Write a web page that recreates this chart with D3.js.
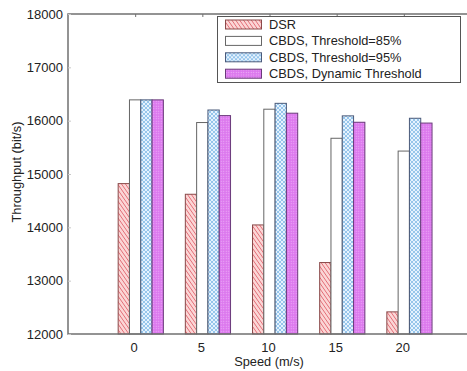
<!DOCTYPE html>
<html>
<head>
<meta charset="utf-8">
<script src="https://cdn.jsdelivr.net/npm/d3@7"></script>
<style>
  body { margin: 0; background: #fff; }
  svg { display: block; font-family: "Liberation Sans", Arial, sans-serif; }
</style>
</head>
<body>
<div id="chart"></div>
<script>
const speeds = [0, 5, 10, 15, 20];
const seriesNames = ['DSR', 'CBDS, Threshold=85%', 'CBDS, Threshold=95%', 'CBDS, Dynamic Threshold'];
const dsr = [14820, 14620, 14045, 13340, 12415];
const cbds85 = [16390, 15965, 16215, 15670, 15430];
const cbds95 = [16390, 16200, 16325, 16090, 16045];
const cbdsDyn = [16390, 16095, 16140, 15970, 15955];
const yTicks = [12000, 13000, 14000, 15000, 16000, 17000, 18000];

const series = [dsr, cbds85, cbds95, cbdsDyn];

const width = 467;
const height = 371;
const margin = { top: 14, left: 68, bottom: 37 };
const plotRight = 471;

const svg = d3.select('#chart').append('svg')
  .attr('width', width)
  .attr('height', height);

const defs = svg.append('defs');

// red diagonal hatching
const hatch = defs.append('pattern')
  .attr('id', 'hatch')
  .attr('patternUnits', 'userSpaceOnUse')
  .attr('width', 3.2)
  .attr('height', 3.2)
  .attr('patternTransform', 'rotate(-35)');
hatch.append('rect').attr('width', 3.2).attr('height', 3.2).attr('fill', '#fbd6d6');
hatch.append('line')
  .attr('x1', 0).attr('y1', 0).attr('x2', 0).attr('y2', 3.2)
  .attr('stroke', '#dd5560').attr('stroke-width', 1.3);

// blue cross-hatch
const cross = defs.append('pattern')
  .attr('id', 'cross')
  .attr('patternUnits', 'userSpaceOnUse')
  .attr('width', 4)
  .attr('height', 4);
cross.append('rect').attr('width', 4).attr('height', 4).attr('fill', '#86bde8');
[[2, 2], [0, 0], [4, 0], [0, 4], [4, 4]].forEach(([cx, cy]) => {
  cross.append('circle').attr('cx', cx).attr('cy', cy).attr('r', 1.2).attr('fill', '#e8f4ff');
});

// purple dots
const dots = defs.append('pattern')
  .attr('id', 'dots')
  .attr('patternUnits', 'userSpaceOnUse')
  .attr('width', 2.5)
  .attr('height', 2.5);
dots.append('rect').attr('width', 2.5).attr('height', 2.5).attr('fill', '#dc78ee');
dots.append('circle').attr('cx', 1.25).attr('cy', 1.25).attr('r', 0.6).attr('fill', '#efb4f7');

const fills = ['url(#hatch)', '#ffffff', 'url(#cross)', 'url(#dots)'];
const strokes = ['#8a4a4a', '#666666', '#4a5a7a', '#6a3a7a'];

const x = d3.scaleLinear().domain([-5, 25]).range([margin.left, margin.left + 403]);
const y = d3.scaleLinear().domain([12000, 18000]).range([height - margin.bottom, margin.top]);

const barW = 11.3;
const offset = -17;

// bars
series.forEach((vals, si) => {
  svg.append('g').selectAll('rect')
    .data(vals)
    .enter()
    .append('rect')
    .attr('x', (d, i) => x(speeds[i]) + offset + si * barW)
    .attr('y', d => y(d))
    .attr('width', barW)
    .attr('height', d => y(12000) - y(d))
    .attr('fill', fills[si])
    .attr('stroke', strokes[si])
    .attr('stroke-width', 1);
});

// frame
svg.append('path')
  .attr('d', `M${plotRight},${y(18000)}H${margin.left}V${y(12000)}H${plotRight}`)
  .attr('fill', 'none')
  .attr('stroke', '#707070')
  .attr('stroke-width', 1.5);

// inner ticks
const yAxis = d3.axisRight(y).tickValues(yTicks).tickSize(3).tickFormat('');
svg.append('g')
  .attr('transform', `translate(${margin.left},0)`)
  .call(yAxis)
  .call(g => g.select('.domain').remove())
  .call(g => g.selectAll('line').attr('stroke', '#c8c8c8'));

svg.append('g')
  .attr('transform', `translate(0,${y(18000)})`)
  .call(d3.axisBottom(x).tickValues(speeds).tickSize(3).tickFormat(''))
  .call(g => g.select('.domain').remove())
  .call(g => g.selectAll('line').attr('stroke', '#707070'));

// y tick labels
svg.append('g').selectAll('text')
  .data(yTicks)
  .enter()
  .append('text')
  .attr('x', 63)
  .attr('y', d => y(d) + 4.5)
  .attr('text-anchor', 'end')
  .attr('font-size', 13)
  .attr('fill', '#222')
  .text(d => d);

// x tick labels
svg.append('g').selectAll('text')
  .data(speeds)
  .enter()
  .append('text')
  .attr('x', d => x(d) - 1)
  .attr('y', 352)
  .attr('text-anchor', 'middle')
  .attr('font-size', 13)
  .attr('fill', '#222')
  .text(d => d);

svg.append('text')
  .attr('x', 269)
  .attr('y', 366)
  .attr('text-anchor', 'middle')
  .attr('font-size', 12.8)
  .attr('fill', '#222')
  .text('Speed (m/s)');

svg.append('text')
  .attr('transform', 'translate(21,172) rotate(-90)')
  .attr('text-anchor', 'middle')
  .attr('font-size', 12.8)
  .attr('fill', '#222')
  .text('Throughput (bit/s)');

// legend
const legend = svg.append('g');
legend.append('rect')
  .attr('x', 217.5).attr('y', 16.5)
  .attr('width', 243).attr('height', 66)
  .attr('fill', '#fff')
  .attr('stroke', '#555')
  .attr('stroke-width', 1);

const items = legend.selectAll('g.item')
  .data(seriesNames)
  .enter()
  .append('g')
  .attr('class', 'item')
  .attr('transform', (d, i) => `translate(0,${24.5 + i * 16.4})`);

items.append('rect')
  .attr('x', 225.5).attr('y', -4.5)
  .attr('width', 36).attr('height', 9)
  .attr('fill', (d, i) => fills[i])
  .attr('stroke', (d, i) => strokes[i])
  .attr('stroke-width', 1);

items.append('text')
  .attr('x', 269)
  .attr('y', 4.5)
  .attr('font-size', 12.8)
  .attr('fill', '#222')
  .text(d => d);
</script>
</body>
</html>
